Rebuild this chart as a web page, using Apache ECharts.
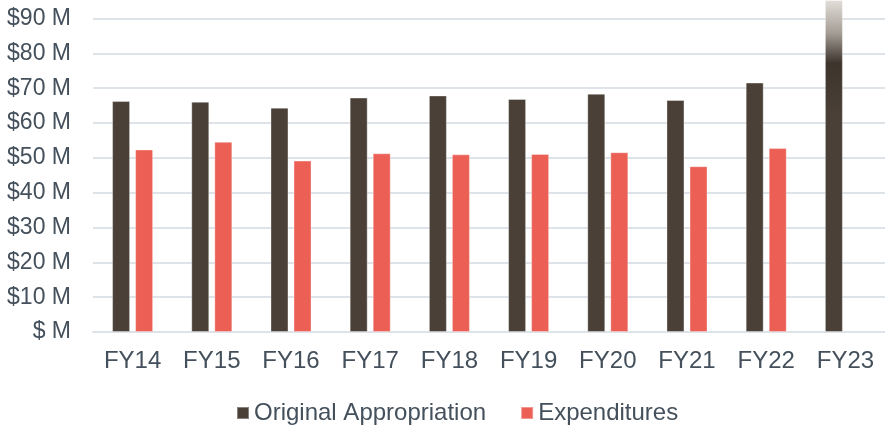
<!DOCTYPE html>
<html style="height: 100%">
<head>
    <meta charset="utf-8">
    <script type="text/javascript" src="https://cdn.jsdelivr.net/npm/echarts@6/dist/echarts.min.js"></script>
</head>
<body style="height: 100%; margin: 0">
<div id="container" style="height: 426px;width: 885px"></div>
<script type="text/javascript">
    var years = ['FY14', 'FY15', 'FY16', 'FY17', 'FY18', 'FY19', 'FY20', 'FY21', 'FY22', 'FY23'];
    // FY23 runs off the top of the chart
    var appropriation = [66.3, 66.1, 64.4, 67.3, 67.9, 66.9, 68.4, 66.6, 71.6, 95.3];
    var expenditures = [52.4, 54.6, 49.2, 51.3, 51.0, 51.1, 51.6, 47.6, 52.8, '-'];

    var textColor = '#44505b';
    var font = 'Liberation Sans, Arial, sans-serif';

    var myChart = echarts.init(document.getElementById('container'));
    var option = {
        animation: false,
        grid: {
            left: 93,
            width: 795,
            top: 18.5,
            bottom: 94
        },
        legend: {
            top: 396,
            left: 231,
            itemWidth: 12,
            itemHeight: 12,
            itemGap: 34,
            icon: 'rect',
            textStyle: { color: textColor, fontSize: 24, fontFamily: font },
            data: ['Original Appropriation', 'Expenditures']
        },
        xAxis: {
            type: 'category',
            data: years,
            axisLine: { lineStyle: { color: '#dde3e8', width: 2 } },
            axisTick: { show: false },
            axisLabel: { color: textColor, fontSize: 24, fontFamily: font, margin: 17 }
        },
        yAxis: {
            type: 'value',
            min: 0,
            max: 90,
            interval: 10,
            axisLine: { show: false },
            axisTick: { show: false },
            splitLine: { lineStyle: { color: '#dde3e8', width: 2 } },
            axisLabel: {
                color: textColor, fontSize: 23, fontFamily: font, margin: 22,
                formatter: function (v) { return v === 0 ? '$ M' : '$' + v + ' M'; }
            }
        },
        series: [
            {
                name: 'Original Appropriation',
                type: 'bar',
                clip: false,
                barWidth: 18,
                barGap: '28%',
                itemStyle: { color: '#4a4037', borderColor: 'rgba(255,255,255,0.35)', borderWidth: 1 },
                data: appropriation.map(function (v, i) {
                    if (i !== appropriation.length - 1) return v;
                    return {
                        value: v,
                        itemStyle: {
                            color: new echarts.graphic.LinearGradient(0, 0, 0, 1, [
                                { offset: 0, color: '#e2ded9' },
                                { offset: 0.1, color: '#a49d95' },
                                { offset: 0.19, color: '#3d342c' },
                                { offset: 0.35, color: '#4a4037' },
                                { offset: 1, color: '#4a4037' }
                            ])
                        }
                    };
                })
            },
            {
                name: 'Expenditures',
                type: 'bar',
                barWidth: 18,
                itemStyle: { color: '#eb5f55', borderColor: 'rgba(255,255,255,0.35)', borderWidth: 1 },
                data: expenditures
            }
        ]
    };
    myChart.setOption(option);
</script>
</body>
</html>
